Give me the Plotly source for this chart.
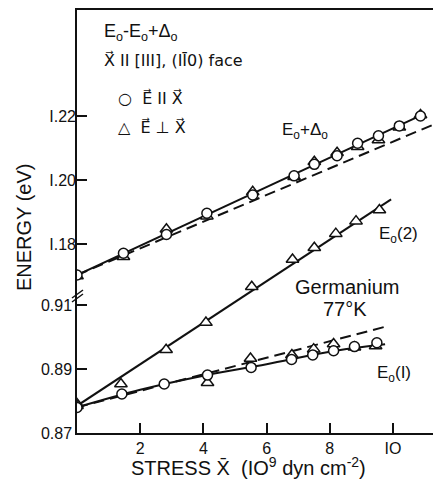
import plotly.graph_objects as go

# ---------------- data (stress in 1e9 dyn/cm^2, energy in eV) ----------------
# E0(1) branch
e1_circ_x = [0, 1.42, 2.76, 4.13, 5.51, 6.79, 7.46, 8.12, 8.78, 9.49]
e1_circ_y = [0.8780, 0.8822, 0.8853, 0.8881, 0.8905, 0.8930, 0.8944, 0.8957, 0.8970, 0.8982]
e1_tri_x = [0, 4.13, 5.49, 6.80, 7.49, 8.12, 8.78, 9.45]
e1_tri_y = [0.8791, 0.8857, 0.8933, 0.8944, 0.8962, 0.8978, 0.8968, 0.8972]
e1_fit_x = [0, 2, 4, 6, 8, 9.75]
e1_fit_y = [0.8780, 0.8835, 0.8879, 0.8915, 0.8954, 0.8977]
e1_theory_x = [0, 9.83]
e1_theory_y = [0.8780, 0.9034]

# E0(2) branch
e2_tri_x = [0, 1.39, 2.82, 4.08, 5.53, 6.82, 7.51, 8.19, 8.83, 9.57]
e2_tri_y = [0.8785, 0.8853, 0.8960, 0.9045, 0.9157, 0.9242, 0.9279, 0.9323, 0.9362, 0.9397]
e2_fit_x = [0, 9.94]
e2_fit_y = [0.8785, 0.9430]

# E0 + Delta0 branch
sd_circ_x = [0, 1.47, 2.83, 4.11, 5.56, 6.87, 7.51, 8.23, 8.88, 9.54, 10.2, 10.87]
sd_circ_y = [1.1703, 1.1771, 1.1830, 1.1896, 1.1953, 1.2013, 1.2049, 1.2076, 1.2115, 1.2138, 1.2169, 1.2200]
sd_tri_x = [0, 1.47, 2.83, 4.11, 5.56, 6.87, 7.51, 8.23, 8.88, 9.54, 10.2, 10.87]
sd_tri_y = [1.1700, 1.1760, 1.1846, 1.1887, 1.1963, 1.2010, 1.2057, 1.2085, 1.2104, 1.2125, 1.2165, 1.2203]
sd_fit_x = [0, 10.9]
sd_fit_y = [1.1703, 1.2203]
sd_theory_x = [0, 11.25]
sd_theory_y = [1.1703, 1.2172]

x_ticks = [2, 4, 6, 8, 10]
x_ticklabels = ["2", "4", "6", "8", "IO"]
y_low_ticks = [0.87, 0.89, 0.91]
y_low_labels = ["0.87", "0.89", "0.91"]
y_up_ticks = [1.18, 1.20, 1.22]
y_up_labels = ["I.18", "I.20", "I.22"]

W, H = 434, 482
ML, MR, MT, MB = 77, 1, 10, 49
PW, PH = W - ML - MR, H - MT - MB
FONT = "Liberation Sans, DejaVu Sans, Noto Sans, sans-serif"
SYMFONT = "DejaVu Sans, Noto Sans, sans-serif"
INK = "#111111"


def P(px, py):
    return (px - ML) / PW, (H - MB - py) / PH


fig = go.Figure()

line_style = dict(color=INK, width=2)
dash_style = dict(color=INK, width=2, dash="11px,6px")
tri = dict(symbol="triangle-up", size=11, color="white", line=dict(width=1.5, color=INK))
circf = dict(symbol="circle", size=10, color="white", line=dict(width=1.5, color=INK))

# lines first
fig.add_trace(go.Scatter(x=e1_theory_x, y=e1_theory_y, mode="lines", line=dash_style, yaxis="y"))
fig.add_trace(go.Scatter(x=e1_fit_x, y=e1_fit_y, mode="lines", line=dict(color=INK, width=2, shape="spline"), yaxis="y"))
fig.add_trace(go.Scatter(x=e2_fit_x, y=e2_fit_y, mode="lines", line=line_style, yaxis="y"))
fig.add_trace(go.Scatter(x=sd_theory_x, y=sd_theory_y, mode="lines", line=dash_style, yaxis="y2"))
fig.add_trace(go.Scatter(x=sd_fit_x, y=sd_fit_y, mode="lines", line=line_style, yaxis="y2"))

# markers
fig.add_trace(go.Scatter(x=e1_tri_x, y=e1_tri_y, mode="markers", marker=tri, yaxis="y"))
fig.add_trace(go.Scatter(x=e2_tri_x, y=e2_tri_y, mode="markers", marker=tri, yaxis="y"))
fig.add_trace(go.Scatter(x=e1_circ_x, y=e1_circ_y, mode="markers", marker=circf, yaxis="y"))
fig.add_trace(go.Scatter(x=sd_tri_x, y=sd_tri_y, mode="markers", marker=tri, yaxis="y2"))
fig.add_trace(go.Scatter(x=sd_circ_x, y=sd_circ_y, mode="markers", marker=circf, yaxis="y2"))

# axis ranges: 3200 px per eV, both halves share same scale, offset at the break
px_per_ev = 3200.0
low0 = 0.87
low1 = low0 + PH / px_per_ev
up0 = 1.18 - (H - MB - 244) / px_per_ev
up1 = up0 + PH / px_per_ev
xmax = PW / 31.6

tickfont = dict(family=FONT, size=16, color=INK)
fig.update_layout(
    width=W, height=H,
    margin=dict(l=ML, r=MR, t=MT, b=MB, pad=0),
    paper_bgcolor="white", plot_bgcolor="white",
    showlegend=False,
    xaxis=dict(range=[0, xmax], tickvals=x_ticks, ticktext=x_ticklabels,
               ticks="inside", ticklen=10, tickwidth=1.5, tickcolor=INK,
               showline=True, linecolor=INK, linewidth=1.5, mirror=True,
               showgrid=False, zeroline=False, tickfont=tickfont),
    yaxis=dict(range=[low0, low1], tickvals=y_low_ticks, ticktext=y_low_labels,
               ticks="inside", ticklen=10, tickwidth=1.5, tickcolor=INK,
               showline=True, linecolor=INK, linewidth=1.5,
               showgrid=False, zeroline=False, tickfont=tickfont),
    yaxis2=dict(range=[up0, up1], tickvals=y_up_ticks, ticktext=y_up_labels,
                overlaying="y", side="left", anchor="x",
                ticks="inside", ticklen=10, tickwidth=1.5, tickcolor=INK,
                showline=False, showgrid=False, zeroline=False, tickfont=tickfont),
)

# axis break marks
for dy in (0, 4):
    x0, y0 = P(72, 298 + dy)
    x1, y1 = P(83, 290 + dy)
    fig.add_shape(type="line", xref="paper", yref="paper", x0=x0, y0=y0, x1=x1, y1=y1,
                  line=dict(color=INK, width=1.5))


def note(px, py, text, size=16, xanchor="center", angle=0, family=FONT):
    x, y = P(px, py)
    fig.add_annotation(x=x, y=y, xref="paper", yref="paper", text=text, showarrow=False,
                       xanchor=xanchor, yanchor="middle", textangle=angle,
                       font=dict(family=family, size=size, color=INK))


vecX = "X\u20d7"
vecE = "E\u20d7"
note(102, 33, "E<sub>o</sub>-E<sub>o</sub>+\u0394<sub>o</sub>", size=18, xanchor="left")
note(102, 60, vecX + " II [III], (II\u03040) face", size=16, xanchor="left", family=SYMFONT)
note(116, 98, "\u25cb  " + vecE + " II " + vecX, size=16, xanchor="left", family=SYMFONT)
note(116, 127, "\u25b3  " + vecE + " \u22a5 " + vecX, size=16, xanchor="left", family=SYMFONT)
note(305, 131, "E<sub>o</sub>+\u0394<sub>o</sub>", size=17)
note(398, 235, "E<sub>o</sub>(2)", size=17)
note(347, 287, "Germanium", size=20)
note(345, 309, "77\u00b0K", size=20)
note(394, 374, "E<sub>o</sub>(I)", size=17)
note(248, 467, "STRESS X\u0304  (IO<sup>9</sup> dyn cm<sup>-2</sup>)", size=20)
note(24, 228, "ENERGY (eV)", size=20, angle=-90)

fig.write_html("out.html")
